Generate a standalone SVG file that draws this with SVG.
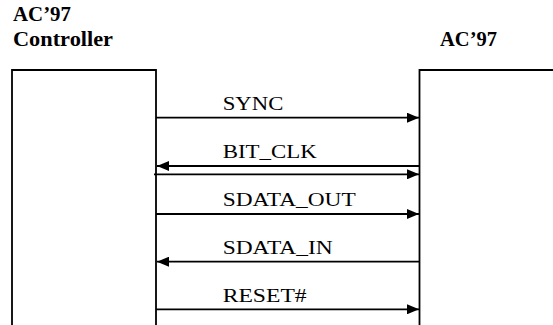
<svg xmlns="http://www.w3.org/2000/svg" width="553" height="325" viewBox="0 0 553 325">
<style>
.title{font-family:"Liberation Serif","DejaVu Serif",serif;font-weight:bold;font-size:20px;fill:#000}
.lbl{font-family:"Liberation Serif","DejaVu Serif",serif;font-size:19px;fill:#000}
.box{fill:none;stroke:#000;stroke-width:1.8}
.wire{fill:none;stroke:#000;stroke-width:1.8}
</style>
<defs>
<marker id="ah" viewBox="0 0 12 10" refX="12" refY="5" markerWidth="12" markerHeight="10" markerUnits="userSpaceOnUse" orient="auto">
<path d="M0,0 L12,5 L0,10 Z" fill="#000"/>
</marker>
</defs>
<rect width="553" height="325" fill="#fff"/>
<g id="controller">
<path class="box" d="M12,325 V70 H156 V325"/>
<text class="title" x="13" y="21" textLength="58" lengthAdjust="spacingAndGlyphs">AC’97</text>
<text class="title" x="13" y="46" textLength="100" lengthAdjust="spacingAndGlyphs">Controller</text>
</g>
<g id="codec">
<path class="box" d="M419.5,325 V70 H553"/>
<text class="title" x="440" y="46" textLength="57" lengthAdjust="spacingAndGlyphs">AC’97</text>
</g>
<g id="connectors">
<line class="wire" x1="156" y1="117.7" x2="419" y2="117.7" marker-end="url(#ah)"/>
<line class="wire" x1="420" y1="166" x2="157" y2="166" marker-end="url(#ah)"/>
<line class="wire" x1="154" y1="174.3" x2="419" y2="174.3" marker-end="url(#ah)"/>
<line class="wire" x1="156" y1="214" x2="419" y2="214" marker-end="url(#ah)"/>
<line class="wire" x1="420" y1="261.7" x2="157" y2="261.7" marker-end="url(#ah)"/>
<line class="wire" x1="156" y1="309.3" x2="419" y2="309.3" marker-end="url(#ah)"/>
<text class="lbl" x="222.7" y="110" textLength="60.6" lengthAdjust="spacingAndGlyphs">SYNC</text>
<text class="lbl" x="222.7" y="158" textLength="94" lengthAdjust="spacingAndGlyphs">BIT_CLK</text>
<text class="lbl" x="222.7" y="206" textLength="133" lengthAdjust="spacingAndGlyphs">SDATA_OUT</text>
<text class="lbl" x="222.7" y="254" textLength="110" lengthAdjust="spacingAndGlyphs">SDATA_IN</text>
<text class="lbl" x="222.7" y="301.7" textLength="84" lengthAdjust="spacingAndGlyphs">RESET#</text>
</g>
</svg>
